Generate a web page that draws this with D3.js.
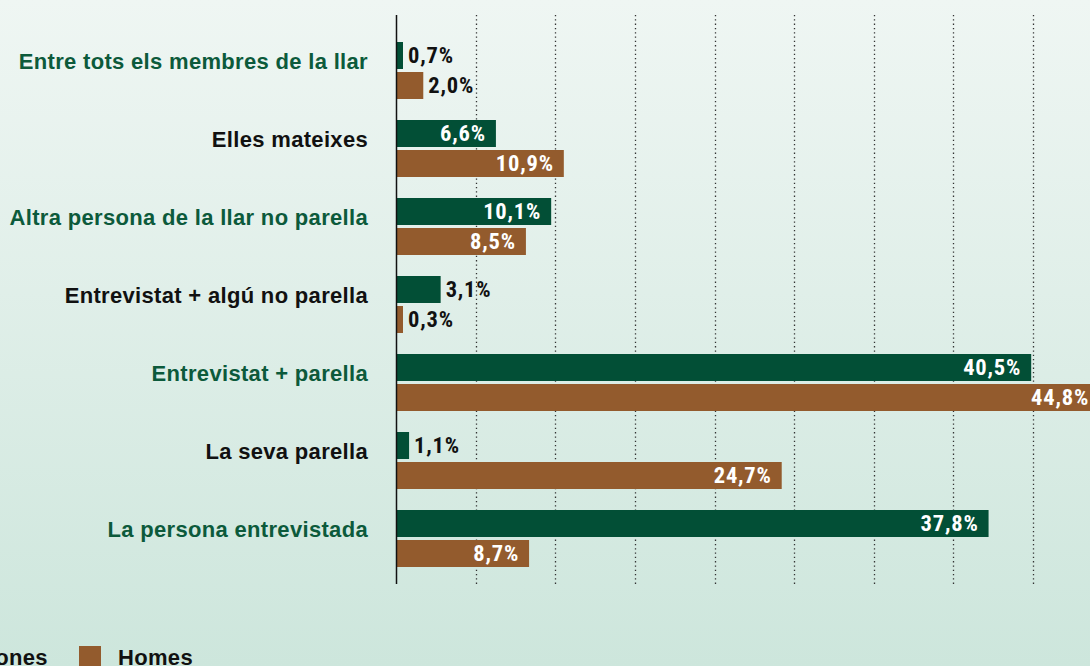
<!DOCTYPE html>
<html>
<head>
<meta charset="utf-8">
<script src="https://cdn.jsdelivr.net/npm/d3@7"></script>
<style>
  html, body { margin: 0; padding: 0; }
  body { width: 1090px; height: 666px; overflow: hidden; }
  svg { display: block; }
</style>
</head>
<body>
<div id="chart"></div>
<script>
// categories top to bottom
const categories = [
  'Entre tots els membres de la llar',
  'Elles mateixes',
  'Altra persona de la llar no parella',
  'Entrevistat + algú no parella',
  'Entrevistat + parella',
  'La seva parella',
  'La persona entrevistada'
];
const labelColors = ['green', 'black', 'green', 'black', 'green', 'black', 'green'];
const dones = [0.7, 6.6, 10.1, 3.1, 40.5, 1.1, 37.8];
const homes = [2.0, 10.9, 8.5, 0.3, 44.8, 24.7, 8.7];
const seriesNames = ['Dones', 'Homes'];
const gridTicks = [5, 10, 15, 20, 25, 30, 35, 40];

const W = 1090, H = 666;
const GREEN = '#024f36', BROWN = '#935b2d';
const fmt = v => d3.format('.1f')(v).replace('.', ',') + '%';
const labelFont = '"Liberation Sans", Arial, Helvetica, sans-serif';
const valueFont = '"Liberation Sans Narrow", "Roboto Condensed", Arial, sans-serif';

const svg = d3.select('#chart').append('svg').attr('width', W).attr('height', H);

const defs = svg.append('defs');
const grad = defs.append('linearGradient').attr('id', 'bg').attr('x1', 0).attr('y1', 0).attr('x2', 0).attr('y2', 1);
grad.append('stop').attr('offset', '0%').attr('stop-color', '#eff6f3');
grad.append('stop').attr('offset', '100%').attr('stop-color', '#cde6dc');
svg.append('rect').attr('width', W).attr('height', H).attr('fill', 'url(#bg)');

const x0 = 396;
const x = d3.scaleLinear().domain([0, 45]).range([391.7, 391.7 + 45 * 15.79]);
const gridX = d3.scaleLinear().domain([0, 40]).range([x0, 1033]);
const y = d3.scaleBand().domain(categories).range([42, 42 + 78 * 7]);
const barH = 27, gap = 3;

// dotted grid
svg.append('g').selectAll('line').data(gridTicks).join('line')
  .attr('x1', d => Math.round(gridX(d)) + 0.5).attr('x2', d => Math.round(gridX(d)) + 0.5)
  .attr('y1', 15).attr('y2', 584)
  .attr('stroke', '#333').attr('stroke-width', 1.3).attr('stroke-dasharray', '1.3,3');

const rows = categories.map((c, i) => ({ cat: c, i: i, vals: [dones[i], homes[i]] }));

const g = svg.append('g');
rows.forEach(r => {
  r.vals.forEach((v, s) => {
    const yy = y(r.cat) + s * (barH + gap);
    const w = Math.max(x(v) - x0, 7);
    g.append('rect')
      .attr('x', x0).attr('y', yy).attr('width', w).attr('height', barH)
      .attr('fill', s === 0 ? GREEN : BROWN);
    const inside = w > 60;
    g.append('text')
      .attr('x', inside ? x0 + w - 10 : x0 + w + 5)
      .attr('y', yy + 21)
      .attr('text-anchor', inside ? 'end' : 'start')
      .attr('fill', inside ? '#fff' : '#111')
      .attr('font-family', valueFont)
      .attr('font-weight', 'bold').attr('font-size', 22.5)
      .attr('letter-spacing', 0.8)
      .text(fmt(v));
  });
  g.append('text')
    .attr('x', 368)
    .attr('y', y(r.cat) + 27)
    .attr('text-anchor', 'end')
    .attr('fill', labelColors[r.i] === 'green' ? '#0c5a3b' : '#111')
    .attr('font-family', labelFont)
    .attr('font-weight', 'bold').attr('font-size', 22)
    .attr('letter-spacing', 0.32)
    .text(r.cat);
});

// axis line
svg.append('line').attr('x1', x0 + 0.5).attr('x2', x0 + 0.5).attr('y1', 15).attr('y2', 584)
  .attr('stroke', '#111').attr('stroke-width', 1.5);

// legend (partly cut off on the left, as in the source)
const legend = svg.append('g');
const legendX = [-60, 79];
seriesNames.forEach((n, i) => {
  legend.append('rect').attr('x', legendX[i]).attr('y', 646).attr('width', 22).attr('height', 22)
    .attr('fill', i === 0 ? GREEN : BROWN);
  legend.append('text').attr('x', legendX[i] + 39).attr('y', 665)
    .attr('fill', '#111')
    .attr('font-family', labelFont)
    .attr('font-weight', 'bold').attr('font-size', 22)
    .attr('letter-spacing', 0.32)
    .text(n);
});
</script>
</body>
</html>
